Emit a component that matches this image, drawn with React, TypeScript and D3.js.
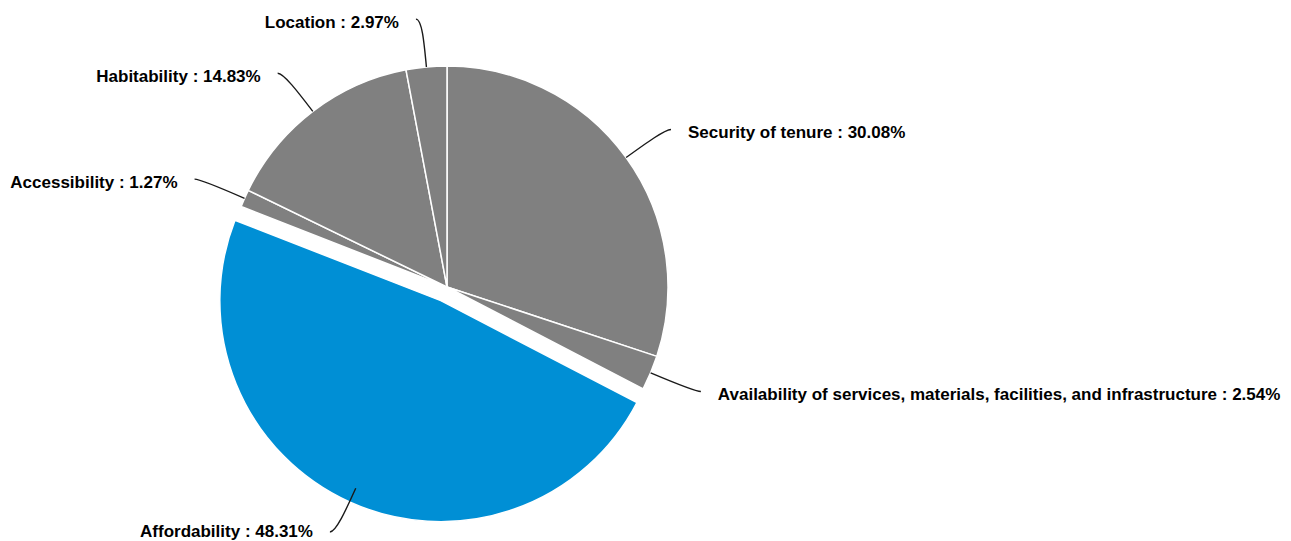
import React from "react";
import * as d3 from "d3";

const categories = [
  "Security of tenure",
  "Availability of services, materials, facilities, and infrastructure",
  "Affordability",
  "Accessibility",
  "Habitability",
  "Location",
];
const values = [30.08, 2.54, 48.31, 1.27, 14.83, 2.97];
const highlighted = ["Affordability"];

const W = 1291;
const H = 541;
const CX = 447;
const CY = 287;
const R = 221;
const LABEL_R = 269;
const EXPLODE = 15;
const FONT = 17;

export default function App() {
  const data = categories.map((c, i) => ({ name: c, value: values[i] }));
  const pie = d3.pie<{ name: string; value: number }>().sort(null).value((d) => d.value);
  const arcs = pie(data);
  const arcGen = d3.arc<d3.PieArcDatum<{ name: string; value: number }>>().innerRadius(0).outerRadius(R);
  const color = d3
    .scaleOrdinal<string, string>()
    .domain(["other", "hl"])
    .range(["#808080", "#008fd5"]);
  const maxBaseline = H - CY - 4.5;

  return (
    <div style={{ position: "absolute", left: 0, top: 0 }}>
      <svg width={W} height={H} style={{ display: "block" }}>
        <g transform={`translate(${CX},${CY})`}>
          {arcs.map((a, i) => {
            const mid = (a.startAngle + a.endAngle) / 2;
            const isHl = highlighted.includes(a.data.name);
            const off = isHl ? EXPLODE : 0;
            const dx = Math.sin(mid) * off;
            const dy = -Math.cos(mid) * off;
            return (
              <path
                key={i}
                d={arcGen(a) || ""}
                transform={`translate(${dx},${dy})`}
                fill={color(isHl ? "hl" : "other")}
                stroke="#ffffff"
                strokeWidth={1.5}
                strokeLinejoin="round"
              />
            );
          })}
          {arcs.map((a, i) => {
            const mid = (a.startAngle + a.endAngle) / 2;
            const sx = Math.sin(mid);
            const sy = -Math.cos(mid);
            const right = sx > 0;
            const p0 = [sx * R, sy * R];
            const p1 = [sx * (R + 25), sy * (R + 25)];
            const p2 = [sx * LABEL_R, sy * LABEL_R];
            const p3 = [p2[0] + (right ? 6 : -6), p2[1]];
            const path = d3.path();
            path.moveTo(p0[0], p0[1]);
            path.bezierCurveTo(p1[0], p1[1], p2[0], p2[1], p3[0], p3[1]);
            const tx = p2[0] + (right ? 23 : -23);
            const baseline = Math.min(p2[1] + 3 + FONT * 0.35, maxBaseline);
            return (
              <g key={"l" + i}>
                <path d={path.toString()} fill="none" stroke="#1a1a1a" strokeWidth={1.4} />
                <text
                  x={tx}
                  y={baseline}
                  textAnchor={right ? "start" : "end"}
                  fontFamily="'Liberation Sans', Arial, sans-serif"
                  fontWeight="bold"
                  fontSize={FONT}
                  fill="#000"
                >
                  {`${a.data.name} : ${a.data.value.toFixed(2)}%`}
                </text>
              </g>
            );
          })}
        </g>
      </svg>
    </div>
  );
}
